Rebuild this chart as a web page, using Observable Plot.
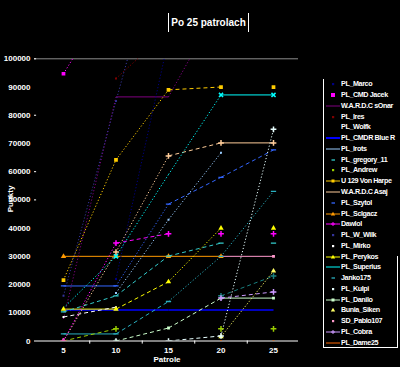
<!DOCTYPE html>
<html><head><meta charset="utf-8">
<script src="https://cdn.jsdelivr.net/npm/d3@7"></script>
<script src="https://cdn.jsdelivr.net/npm/@observablehq/plot@0.6"></script>
<style>
html,body{margin:0;padding:0;background:#000;}
#wrap{position:relative;width:400px;height:367px;background:#000;overflow:hidden;font-family:"Liberation Sans",Arial,sans-serif;color:#fff;}
#chart{position:absolute;left:0;top:0;}
#title{position:absolute;left:168px;top:13px;width:79px;height:19px;border-left:1px solid #fff;border-right:1px solid #fff;font-weight:bold;font-size:10px;line-height:19px;text-align:center;white-space:nowrap;}
#ylab{position:absolute;left:10px;top:199px;transform:translate(-50%,-50%) rotate(-90deg);font-weight:bold;font-size:8px;}
#xlab{position:absolute;left:167px;top:355px;transform:translateX(-50%);font-weight:bold;font-size:8px;}
#legend{position:absolute;left:323px;top:79px;width:74px;height:268px;border-left:1px solid #fff;border-bottom:1px solid #fff;}
#legR{position:absolute;left:397px;top:256px;width:1px;height:92px;background:#fff;}
.le{position:absolute;left:0;height:10px;width:76px;}
.le svg{position:absolute;left:1px;top:0;}
.le span{position:absolute;left:17px;top:0;font-size:7.2px;line-height:10px;font-weight:bold;letter-spacing:-0.4px;white-space:nowrap;}
</style></head>
<body>
<div id="wrap">
  <div id="chart"></div>
  <div id="title">Po 25 patrolach</div>
  <div id="ylab">Punkty</div>
  <div id="xlab">Patrole</div>
  <div id="legend"></div>
  <div id="legR"></div>
</div>
<script>
const patrols = [5, 10, 15, 20, 25];
const yTicks = [0, 10000, 20000, 30000, 40000, 50000, 60000, 70000, 80000, 90000, 100000];

// series values at patrols 5,10,15,20,25 (null = no value)
const marco      = [null, 22000, 107000, null, null];
const cmdJacek   = [94700, 125000, null, null, null];
const sonar      = [7800, 86500, 86500, 120000, null];
const ires       = [null, 93000, 110000, null, null];
const wolfk      = [null, null, null, 16000, 23000];
const blueR      = [11000, 11000, 11000, 11000, 11000];
const irots      = [null, 17000, 43000, 66700, null];
const gregory    = [10300, 16000, 30100, 34700, 34700];
const andrew     = [0, 4300, null, 4300, 4300];
const vonHarpe   = [21600, 64200, 89000, 90000, 90000];
const asaj       = [0, 31500, 65600, 70200, 70200];
const szytol     = [19500, 19500, 48500, 58000, 67700];
const sclgacz    = [30000, 30000, 30000, 30000, null];
const dawlol     = [0, 34700, 38000, 38000, 38000];
const wWilk      = [16000, 85000, 153000, null, null];
const mirko      = [8500, 12000, null, null, null];
const perykos    = [11300, 11300, 21000, 40000, 40000];
const superius   = [11700, 30000, 59000, 87200, 87200];
const janko      = [2500, 2500, 14000, 30000, 53000];
const kulpi      = [null, 0, 0, 1800, 75000];
const danilo     = [0, 0, 4600, 15200, 15200];
const bunia      = [null, null, null, 1500, 24800];
const pablo      = [null, null, null, 30000, 30000];
const cobra      = [null, null, null, 15200, 17400];
const dame       = [null, null, null, 0, 0];

const names = ["PL_Marco","PL_CMD Jacek","W.A.R.D.C sOnar","PL_Ires","PL_Wolfk","PL_CMDR Blue R","PL_Irots","PL_gregory_11","PL_Andrew","U 129 Von Harpe","W.A.R.D.C Asaj","PL_Szytol","PL_Sclgacz","Dawlol","PL_W_Wilk","PL_Mirko","PL_Perykos","PL_Superius","Janko175","PL_Kulpi","PL_Danilo","Bunia_Siken","SD_Pablo107","PL_Cobra","PL_Dame25"];
const valuesList = [marco,cmdJacek,sonar,ires,wolfk,blueR,irots,gregory,andrew,vonHarpe,asaj,szytol,sclgacz,dawlol,wWilk,mirko,perykos,superius,janko,kulpi,danilo,bunia,pablo,cobra,dame];
const colors = ["#000080","#ff00ff","#800080","#800000","#1a8080","#0000ff","#99ccff","#33cccc","#99cc00","#ffcc00","#ffcc99","#3366ff","#ff9900","#ff00ff","#333399","#ffffff","#ffff00","#00ffff","#2ab0c0","#e8ffff","#ccffcc","#ffff66","#ff99cc","#cc99ff","#ff6600"];
const markerTypes = ["square-s","square-l","none","square-s","plus","none","square-s","dash","plus","square-l","plus","dash","triangle","plus","square-s","square-s","triangle","times","dash","plus","square-m","triangle","square-m","plus","square-s"];
const legendLine = [false,false,true,false,false,true,true,false,false,true,true,false,true,true,false,false,true,true,false,false,true,false,false,true,true];
const legendMarker = ["square-s","square-l","none","square-s","none","none","none","dash","square-s","square-m","none","dash","triangle","plus","square-s","square-s","triangle","none","dash","square-s","square-m","triangle","square-s","plus","none"];
// points reached without a connecting line from the previous patrol
const unlinked = [["PL_Andrew",25],["Dawlol",20],["Dawlol",25],["PL_Perykos",25],["U 129 Von Harpe",25],["PL_gregory_11",25]];
// points drawn without a marker
const unmarked = [["PL_Superius",5],["PL_Superius",15]];

const X0 = 2.24, X1 = 27.38;
const segs = [], pts = [];
names.forEach((name, si) => {
  const v = valuesList[si];
  v.forEach((val, i) => {
    if (val != null && markerTypes[si] !== "none" && !unmarked.some(u => u[0] === name && u[1] === patrols[i]))
      pts.push({name, x: patrols[i], y: val, color: colors[si], type: markerTypes[si]});
    if (i > 0 && val != null && v[i-1] != null && !unlinked.some(u => u[0] === name && u[1] === patrols[i])) {
      const r = Math.abs(val - v[i-1]) * 2.822 / 1000 / 52.5;
      const kind = r < 0.02 ? "solid" : r < 0.8 ? "dash" : "dot";
      segs.push({name, x1: patrols[i-1], y1: v[i-1], x2: patrols[i], y2: val, color: colors[si], kind, w: name === "PL_CMDR Blue R" ? 1.5 : 1});
    }
  });
});

const linkOpts = {x1: "x1", y1: "y1", x2: "x2", y2: "y2", stroke: "color", strokeWidth: "w", clip: true};
const chart = Plot.plot({
  width: 400, height: 367,
  marginLeft: 34, marginRight: 102, marginTop: 58.3, marginBottom: 26.5,
  style: {background: "black", color: "white", fontFamily: "Liberation Sans, Arial, sans-serif", fontSize: "8px", fontWeight: "bold", overflow: "visible"},
  x: {domain: [X0, X1], ticks: patrols, tickSize: 0, tickPadding: 6, tickFormat: d => String(d), label: null},
  y: {domain: [0, 100000], ticks: yTicks, tickSize: 0, tickPadding: 4, tickFormat: d => String(d), label: null},
  color: {type: "identity"},
  marks: [
    Plot.ruleY([100000], {stroke: "#8c8c8c"}),
    Plot.ruleY([100000, 80000, 60000, 50000], {x1: X0, x2: X0 + 0.2, stroke: "white"}),
    Plot.ruleY([0], {stroke: "white"}),
    Plot.ruleX([7.5, 12.5, 17.5, 22.5], {y1: 0, y2: -1100, stroke: "white"}),
    Plot.link(segs.filter(d => d.kind === "solid"), linkOpts),
    Plot.link(segs.filter(d => d.kind === "dash"), {...linkOpts, strokeDasharray: "4,3"}),
    Plot.link(segs.filter(d => d.kind === "dot"), {...linkOpts, strokeDasharray: "1.2,2"}),
    Plot.dot(pts.filter(d => d.type === "square-s"), {x: "x", y: "y", symbol: "square", r: 1.1, fill: "color", clip: true}),
    Plot.dot(pts.filter(d => d.type === "square-m"), {x: "x", y: "y", symbol: "square", r: 1.6, fill: "color", clip: true}),
    Plot.dot(pts.filter(d => d.type === "square-l"), {x: "x", y: "y", symbol: "square", r: 2.1, fill: "color", clip: true}),
    Plot.dot(pts.filter(d => d.type === "triangle"), {x: "x", y: "y", symbol: "triangle", r: 2, fill: "color", clip: true}),
    Plot.dot(pts.filter(d => d.type === "plus"), {x: "x", y: "y", symbol: "plus", r: 2, stroke: "color", fill: "none", clip: true}),
    Plot.dot(pts.filter(d => d.type === "times"), {x: "x", y: "y", symbol: "times", r: 2, stroke: "color", fill: "none", clip: true}),
    Plot.link(pts.filter(d => d.type === "dash"), {x1: d => d.x - 0.25, x2: d => d.x + 0.25, y1: "y", y2: "y", stroke: "color", strokeWidth: 1.3, clip: true})
  ]
});
document.getElementById("chart").appendChild(chart);

// legend
const leg = document.getElementById("legend");
names.forEach((name, i) => {
  const div = document.createElement("div");
  div.className = "le";
  div.style.top = (84.3 - 79 + i * 10.77 - 5) + "px";
  const c = colors[i];
  let s = `<svg width="16" height="10">`;
  if (legendLine[i]) s += `<line x1="1" x2="15" y1="5" y2="5" stroke="${c}" stroke-width="${name === "PL_CMDR Blue R" ? 2 : 1}"/>`;
  const m = legendMarker[i];
  if (m === "square-s") s += `<rect x="7" y="4" width="2.2" height="2.2" fill="${c}"/>`;
  if (m === "square-m") s += `<rect x="6.5" y="3.5" width="3" height="3" fill="${c}"/>`;
  if (m === "square-l") s += `<rect x="6" y="3" width="4" height="4" fill="${c}"/>`;
  if (m === "dash") s += `<line x1="6.5" x2="10" y1="5" y2="5" stroke="${c}" stroke-width="1.3"/>`;
  if (m === "triangle") s += `<path d="M8,2.8L10.2,6.6H5.8Z" fill="${c}"/>`;
  if (m === "plus") s += `<path d="M6,5H10M8,3V7" stroke="${c}" stroke-width="1"/>`;
  s += `</svg><span>${name}</span>`;
  div.innerHTML = s;
  leg.appendChild(div);
});
</script>
</body></html>
